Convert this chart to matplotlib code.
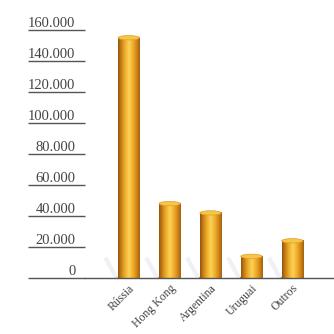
import numpy as np
import matplotlib.pyplot as plt
from matplotlib.colors import LinearSegmentedColormap
from matplotlib.patches import Ellipse

# data
paises = ['Rússia', 'Hong Kong', 'Argentina', 'Uruguai', 'Outros']
valores = [155000, 48000, 42000, 14000, 24000]
yticks = [0, 20000, 40000, 60000, 80000, 100000, 120000, 140000, 160000]
ytick_labels = ['0', '20.000', '40.000', '60.000', '80.000', '100.000',
                '120.000', '140.000', '160.000']

plt.rcParams['font.family'] = ['Liberation Serif', 'DejaVu Serif']

fig = plt.figure(figsize=(3.34, 3.34), dpi=100)
ax = fig.add_axes([85 / 334, 1 - 278 / 334, 249 / 334, 248 / 334])

cmap = LinearSegmentedColormap.from_list(
    'cil', ['#94560c', '#cf861c', '#f0b22c', '#fbd25a', '#f2b22e', '#d98c1c', '#a4620f'])
grad = np.linspace(0, 1, 64).reshape(1, -1)
w = 0.52
eh = 2800  # ellipse height in data units

x = np.arange(len(paises))
for xi, v in zip(x, valores):
    # faint shadow
    ax.plot([xi - 0.55, xi - 0.3], [12000, 0], color='#f0f0f5', lw=3, zorder=1)
    ax.imshow(grad, cmap=cmap, aspect='auto', extent=(xi - w / 2, xi + w / 2, 0, v),
              zorder=2, interpolation='bilinear')
    ax.add_patch(Ellipse((xi, 0), w, eh, color='#b06c12', zorder=1.9))
    ax.add_patch(Ellipse((xi, v), w, eh, color='#f6c648', ec='#e0a02a', lw=0.5, zorder=3))

ax.set_xlim(-1.07, 5.02)
ax.set_ylim(0, 160000)

ax.set_yticks(yticks)
ax.set_yticklabels(ytick_labels, fontsize=10.5, color='#444444')
ax.tick_params(axis='y', length=41, width=1, color='#555555', pad=-34)
for lab in ax.get_yticklabels():
    lab.set_va('bottom')

ax.set_xticks(x)
ax.set_xticklabels(paises, fontsize=8.5, color='#444444', rotation=45,
                   ha='right', va='top', rotation_mode='anchor')
ax.tick_params(axis='x', length=0, pad=3)

for s in ['left', 'top', 'right']:
    ax.spines[s].set_visible(False)
ax.spines['bottom'].set_color('#555555')
ax.spines['bottom'].set_linewidth(1)

fig.savefig('out.png', dpi=100)
